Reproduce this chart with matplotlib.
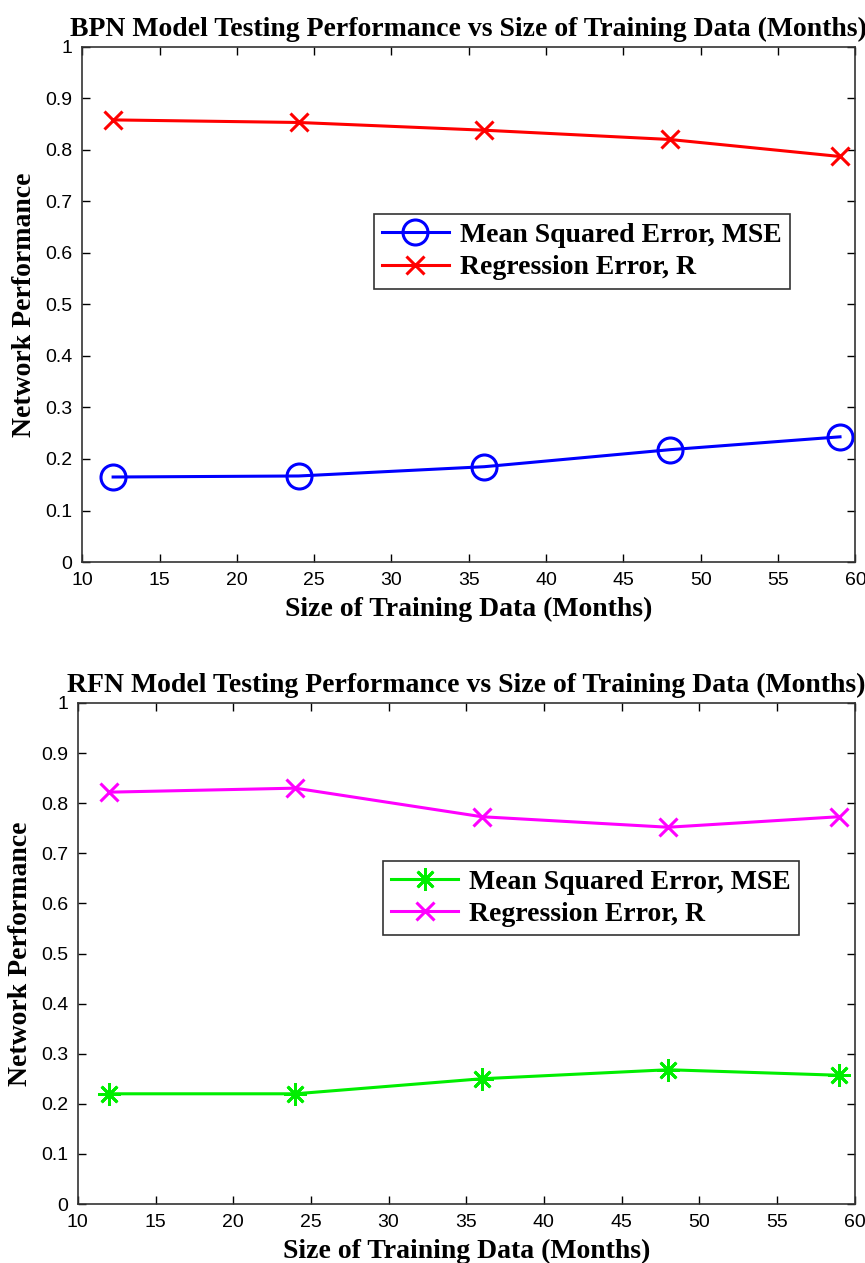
import matplotlib
matplotlib.use("Agg")
import matplotlib.pyplot as plt

# data
bulan = [12, 24, 36, 48, 59]

bpn_mse = [0.165, 0.167, 0.185, 0.218, 0.243]
bpn_r = [0.858, 0.853, 0.838, 0.820, 0.787]

rfn_mse = [0.220, 0.220, 0.250, 0.268, 0.257]
rfn_r = [0.822, 0.830, 0.773, 0.752, 0.773]

label_mse = "Mean Squared Error, MSE"
label_r = "Regression Error, R"
x_ticks = [10, 15, 20, 25, 30, 35, 40, 45, 50, 55, 60]
y_ticks = [0, 0.1, 0.2, 0.3, 0.4, 0.5, 0.6, 0.7, 0.8, 0.9, 1]
y_ticklabels = ["0", "0.1", "0.2", "0.3", "0.4", "0.5", "0.6", "0.7", "0.8", "0.9", "1"]

serif = ["Liberation Serif", "DejaVu Serif"]
narrow = ["Liberation Sans Narrow", "Liberation Sans", "DejaVu Sans"]


def atur_axes(ax, judul, leg_anchor):
    ax.set_xlim(10, 60)
    ax.set_ylim(0, 1)
    ax.set_xticks(x_ticks)
    ax.set_yticks(y_ticks)
    ax.set_xticklabels([str(t) for t in x_ticks], family=narrow, fontsize=14)
    ax.set_yticklabels(y_ticklabels, family=narrow, fontsize=14)
    ax.tick_params(direction="in", top=True, right=True, length=6, width=1)
    ax.tick_params(axis="x", pad=7)
    ax.tick_params(axis="y", pad=7)
    for s in ax.spines.values():
        s.set_linewidth(1.2)
        s.set_color("#333333")
    ax.set_title(judul, family=serif, fontweight="bold", fontsize=20, pad=8)
    ax.set_xlabel("Size of Training Data (Months)", family=serif,
                  fontweight="bold", fontsize=20, labelpad=6)
    ax.set_ylabel("Network Performance", family=serif,
                  fontweight="bold", fontsize=20, labelpad=6)
    leg = ax.legend(loc="upper left", bbox_to_anchor=leg_anchor,
                    prop={"family": serif, "weight": "bold", "size": 20},
                    fancybox=False, edgecolor="#333333", framealpha=1,
                    handlelength=2.4, borderpad=0.3, labelspacing=0.25,
                    handletextpad=0.4, borderaxespad=0)
    leg.get_frame().set_linewidth(1.2)


fig = plt.figure(figsize=(8.65, 12.63), dpi=100)

# grafik BPN
ax1 = fig.add_axes([0.095, 0.555, 0.894, 0.408])
ax1.plot(bulan, bpn_mse, color="blue", marker="o", markersize=18,
         markerfacecolor="none", markeredgewidth=2.2, linewidth=2.2, label=label_mse)
ax1.plot(bulan, bpn_r, color="red", marker="x", markersize=13,
         markeredgewidth=2.2, linewidth=2.2, label=label_r)
atur_axes(ax1, "BPN Model Testing Performance vs Size of Training Data (Months)",
          (0.377, 0.675))

# grafik RFN
ax2 = fig.add_axes([0.090, 0.0467, 0.898, 0.3967])
ax2.plot(bulan, rfn_mse, color="#00ee00", marker=(8, 2, 0), markersize=16,
         markeredgewidth=2, linewidth=2.2, label=label_mse)
ax2.plot(bulan, rfn_r, color="magenta", marker="x", markersize=13,
         markeredgewidth=2.2, linewidth=2.2, label=label_r)
atur_axes(ax2, "RFN Model Testing Performance vs Size of Training Data (Months)",
          (0.393, 0.685))

fig.savefig("out.png", dpi=100)
